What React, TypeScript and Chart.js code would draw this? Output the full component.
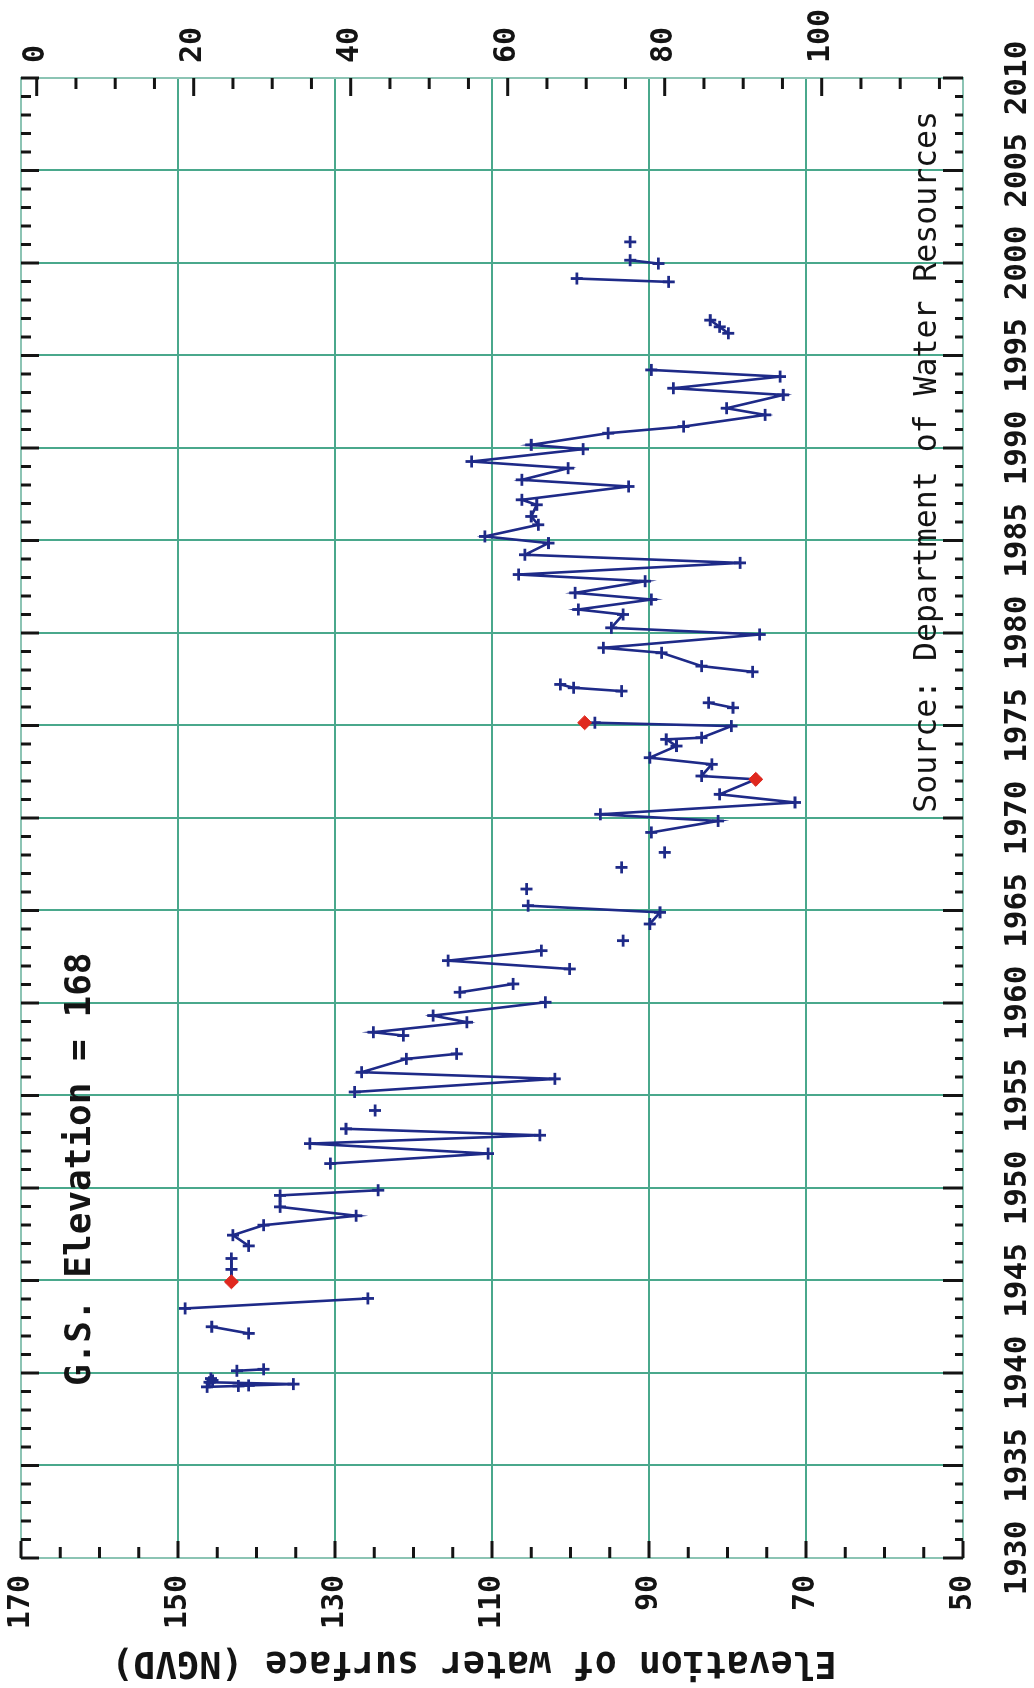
import React, { useEffect, useRef } from 'react';
import { Chart, registerables } from 'chart.js';

Chart.register(...registerables);

// ---- data (null = break in the record) ----
const measureYears: (number | null)[] = [
  1939.25, 1939.3, 1939.33, 1939.4, 1939.5, 1939.6, 1939.7, null,
  1940.12, 1940.2, null,
  1942.14, 1942.5, null,
  1943.49, 1944.03, null,
  1944.93, 1945.6, 1946.19, null,
  1946.87, 1947.45, 1947.99, 1948.5, 1948.98, 1949.6, 1949.88, null,
  1951.32, 1951.86, 1952.4, 1952.85, 1953.2, null,
  1954.19, null,
  1955.19, 1955.9, 1956.26, 1956.98, 1957.25, null,
  1958.24, 1958.42, 1958.96, 1959.32, 1960.04, null,
  1960.58, 1961.03, null,
  1961.84, 1962.29, 1962.83, null,
  1963.37, null,
  1964.27, 1964.9, 1965.26, null,
  1966.16, null,
  1967.33, null,
  1968.14, null,
  1969.22, 1969.84, 1970.2, 1970.84, 1971.28, 1972.09, 1972.27, 1972.9, 1973.26, 1973.89, 1974.25, 1974.34, 1974.97, 1975.15, null,
  1975.96, 1976.23, null,
  1976.86, 1977.04, 1977.22, null,
  1977.9, 1978.21, 1978.93, 1979.2, 1979.92, 1980.28, 1981.0, 1981.27, 1981.81, 1982.17, 1982.8, 1983.16, 1983.79, 1984.23, 1984.86, 1985.22, 1985.85, 1986.3, 1986.93, 1987.2, 1987.92, 1988.28, 1988.91, 1989.27, 1989.94, 1990.17, 1990.8, 1991.16, 1991.79, 1992.15, 1992.87, 1993.23, 1993.86, 1994.22, null,
  1996.2, 1996.55, 1996.91, null,
  1998.98, 1999.16, null,
  1999.97, 2000.15, null,
  2001.14,
];

const waterLevels: (number | null)[] = [
  146.3, 142.3, 141.0, 135.3, 146.0, 145.6, 145.8, null,
  142.5, 139.1, null,
  141.0, 145.7, null,
  149.1, 125.8, null,
  143.2, 143.2, 143.2, null,
  141.0, 143.0, 139.1, 127.3, 137.0, 137.0, 124.5, null,
  130.6, 110.5, 133.2, 103.9, 128.6, null,
  124.9, null,
  127.5, 102.0, 126.6, 120.9, 114.5, null,
  121.3, 125.1, 113.2, 117.5, 103.2, null,
  114.1, 107.3, null,
  100.1, 115.6, 103.7, null,
  93.3, null,
  89.9, 88.6, 105.4, null,
  105.6, null,
  93.5, null,
  88.0, null,
  89.7, 81.2, 96.2, 71.4, 81.0, 76.4, 83.3, 82.0, 89.9, 86.5, 87.8, 83.3, 79.5, 96.9, null,
  79.3, 82.4, null,
  93.5, 99.6, 101.3, null,
  76.8, 83.3, 88.4, 95.8, 75.9, 94.8, 93.3, 99.0, 89.7, 99.4, 90.5, 106.6, 78.4, 105.8, 102.8, 110.9, 104.1, 105.0, 104.3, 106.2, 92.6, 106.2, 100.3, 112.6, 98.4, 105.0, 95.2, 85.6, 75.2, 80.1, 72.9, 86.9, 73.3, 89.7, null,
  79.9, 81.0, 82.2, null,
  87.5, 99.2, null,
  88.8, 92.4, null,
  92.4,
];

const flaggedYears = [1944.93, 1972.09, 1975.15];
const flaggedLevels = [143.2, 76.4, 98.2];

const elevationTicks = [50, 70, 90, 110, 130, 150, 170];
const depthTicks = [0, 20, 40, 60, 80, 100];
const landSurface = 168;
const yearMin = 1930;
const yearMax = 2010;

const titleText = 'G.S. Elevation = 168';
const sourceText = 'Source: Department of Water Resources';
const axisTitle = 'Elevation of water surface (NGVD)';

// ---- styles ----
const W = 1688;
const H = 1034;
const INK = '#141414';
const GRID = '#4aa88c';
const FRAME = '#8cc4b4';
const LINE = '#1e2a88';
const RED = '#e0281e';
const MONO = "'DejaVu Sans Mono', 'Liberation Mono', monospace";
const yearFont = { family: MONO, size: 31, weight: 'bold' as const };
const levelFont = { family: MONO, size: 30, weight: 'bold' as const };

const zeroPad = (s: any) => {
  s.paddingTop = 0;
  s.paddingBottom = 0;
  s.paddingLeft = 0;
  s.paddingRight = 0;
};

const framePlugin = {
  id: 'frame',
  afterDraw(chart: any) {
    const { ctx, chartArea: a, scales } = chart;
    ctx.save();
    ctx.strokeStyle = FRAME;
    ctx.lineWidth = 2;
    ctx.strokeRect(a.left, a.top, a.right - a.left, a.bottom - a.top);

    const seg = (x1: number, y1: number, x2: number, y2: number) => {
      ctx.beginPath();
      ctx.moveTo(x1, y1);
      ctx.lineTo(x2, y2);
      ctx.stroke();
    };
    ctx.strokeStyle = INK;
    ctx.lineWidth = 3;
    for (let yr = yearMin; yr <= yearMax; yr++) {
      const px = scales.x.getPixelForValue(yr);
      const major = yr % 5 === 0;
      seg(px, a.bottom, px, a.bottom - (major ? 20 : 8));
      seg(px, a.top, px, a.top + (major ? 18 : 10));
    }
    for (let e = 50; e <= 170; e += 5) {
      const py = scales.y.getPixelForValue(e);
      const major = (e - 50) % 20 === 0;
      seg(a.left, py, a.left + (major ? 17 : 11), py);
    }
    for (let d = 0; d <= 115; d += 5) {
      const py = scales.y2.getPixelForValue(d);
      const major = d % 20 === 0;
      seg(a.right, py, a.right - (major ? 18 : 11), py);
    }

    ctx.fillStyle = INK;
    ctx.textBaseline = 'alphabetic';
    ctx.textAlign = 'left';
    ctx.font = `bold 36px ${MONO}`;
    ctx.fillText(titleText, a.left + 172, a.top + 69);
    ctx.textAlign = 'right';
    ctx.font = `31.5px ${MONO}`;
    ctx.fillText(sourceText, a.right - 33, a.bottom - 27);

    // left axis title (rotated)
    ctx.save();
    ctx.translate(36, a.top + 453);
    ctx.rotate(-Math.PI / 2);
    ctx.textAlign = 'center';
    ctx.font = `bold 36.5px ${MONO}`;
    ctx.fillText(axisTitle, 0, 0);
    ctx.restore();
    ctx.restore();
  },
};

export default function App() {
  const ref = useRef<HTMLCanvasElement | null>(null);

  useEffect(() => {
    if (!ref.current) return;
    const points = measureYears.map((yr, i) => ({
      x: yr ?? (measureYears[i - 1] as number),
      y: waterLevels[i],
    }));
    const flagged = flaggedYears.map((yr, i) => ({ x: yr, y: flaggedLevels[i] }));

    const chart = new Chart(ref.current, {
      type: 'line',
      data: {
        datasets: [
          {
            data: flagged,
            showLine: false,
            pointStyle: 'rectRot',
            pointRadius: 7,
            pointBackgroundColor: RED,
            pointBorderColor: RED,
            borderColor: RED,
          },
          {
            data: points as any,
            borderColor: LINE,
            borderWidth: 2.6,
            tension: 0,
            spanGaps: false,
            pointStyle: 'cross',
            pointRadius: 6,
            pointBorderWidth: 2.8,
            pointBorderColor: LINE,
            pointBackgroundColor: LINE,
          },
        ],
      },
      options: {
        responsive: false,
        animation: false,
        devicePixelRatio: 1,
        layout: { padding: { top: 21, left: 0, right: 0, bottom: 0 } },
        plugins: { legend: { display: false }, tooltip: { enabled: false } },
        scales: {
          x: {
            type: 'linear',
            position: 'bottom',
            min: yearMin,
            max: yearMax,
            ticks: {
              stepSize: 5,
              font: yearFont,
              color: INK,
              padding: 36,
              maxRotation: 0,
              minRotation: 0,
              autoSkip: false,
              callback: (v: any) => String(v),
            },
            grid: { color: GRID, lineWidth: 2, drawTicks: false },
            border: { display: false },
            afterFit: (s: any) => { s.height = 71; zeroPad(s); },
          },
          y: {
            type: 'linear',
            position: 'left',
            min: 50,
            max: 170,
            afterBuildTicks: (s: any) => { s.ticks = elevationTicks.map((v) => ({ value: v })); },
            ticks: { font: levelFont, color: INK, padding: 17 },
            grid: { color: GRID, lineWidth: 2, drawTicks: false },
            border: { display: false },
            afterFit: (s: any) => { s.width = 130; zeroPad(s); },
          },
          y2: {
            type: 'linear',
            position: 'right',
            reverse: true,
            min: landSurface - 170,
            max: landSurface - 50,
            afterBuildTicks: (s: any) => { s.ticks = depthTicks.map((v) => ({ value: v })); },
            ticks: { font: levelFont, color: INK, padding: 15 },
            grid: { display: false, drawTicks: false },
            border: { display: false },
            afterFit: (s: any) => { s.width = 78; zeroPad(s); },
          },
        },
      } as any,
      plugins: [framePlugin],
    });
    return () => chart.destroy();
  }, []);

  return (
    <div style={{ position: 'absolute', left: 0, top: 0, width: H, height: W, overflow: 'hidden', background: '#fff' }}>
      <canvas
        ref={ref}
        width={W}
        height={H}
        style={{
          position: 'absolute',
          left: 0,
          top: 0,
          width: W,
          height: H,
          transformOrigin: '0 0',
          transform: `translateY(${W}px) rotate(-90deg)`,
        }}
      />
    </div>
  );
}
